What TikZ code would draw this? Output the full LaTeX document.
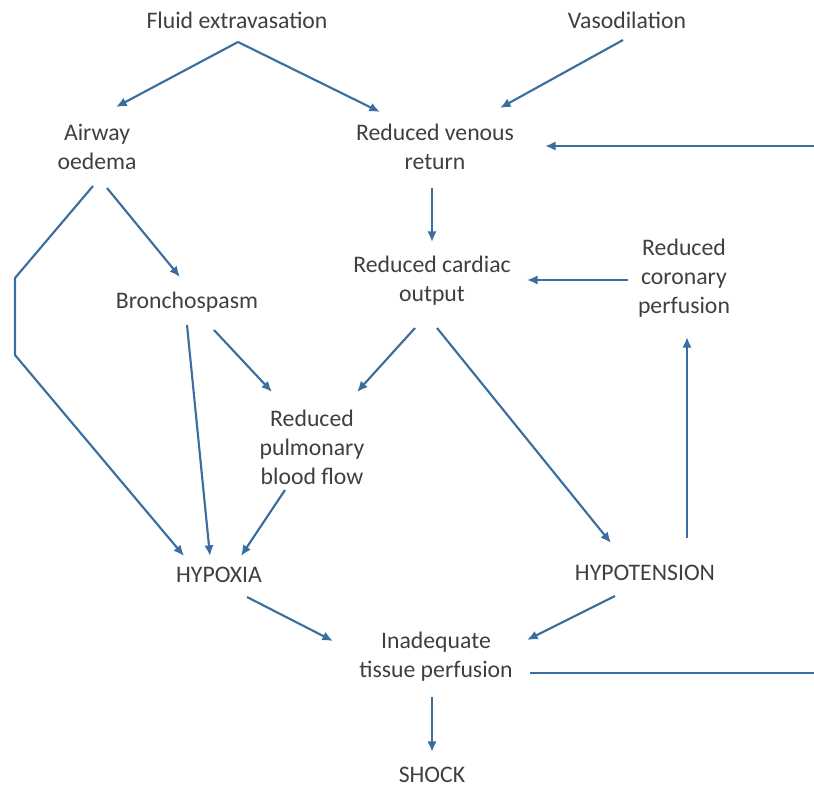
\documentclass[tikz,border=0pt]{standalone}
\usepackage{fontspec}
\setmainfont{Carlito}
\usetikzlibrary{arrows.meta,calc}
\definecolor{arrowblue}{HTML}{3A6E9E}
\definecolor{txtgray}{HTML}{3F3F3F}
\tikzset{
  lbl/.style={inner sep=0pt, align=center, text=txtgray, font=\fontsize{17.8pt}{21.7pt}\selectfont},
  arr/.style={draw=arrowblue, line width=1.6pt, -{Latex[length=8pt,width=7pt]}},
  ln/.style={draw=arrowblue, line width=1.6pt}
}
\begin{document}
\begin{tikzpicture}[x=0.75pt,y=-0.75pt]
\useasboundingbox (0,0) rectangle (814,789);
\clip (0,0) rectangle (814,789);
\node[lbl] (fluid) at (237,20) {Fluid extravasation};
\node[lbl] (vaso) at (627,20) {Vasodilation};
\node[lbl] (airway) at (97,147) {Airway\\oedema};
\node[lbl] (rvr) at (435,147) {Reduced venous\\return};
\node[lbl] (rco) at (432,281) {Reduced cardiac\\output};
\node[lbl] (coro) at (684,278) {Reduced\\coronary\\perfusion};
\node[lbl] (bronch) at (187,302) {Bronchospasm};
\node[lbl] (pulm) at (312,447) {Reduced\\pulmonary\\blood flow};
\node[lbl] (hypoxia) at (219,575) {HYPOXIA};
\node[lbl] (hypot) at (645,573) {HYPOTENSION};
\node[lbl] (tissue) at (436,657) {Inadequate\\tissue perfusion};
\node[lbl] (shock) at (432,775) {SHOCK};

\draw[arr] ($(fluid)+(1,22)$) -- ($(airway)+(19,-40)$);
\draw[arr] ($(fluid)+(1,22)$) -- ($(rvr)+(-55,-35)$);
\draw[arr] ($(vaso)+(-4,20)$) -- ($(rvr)+(65,-39)$);
\draw[arr] ($(tissue)+(94,16)$) -- (818,673) -- (818,146) -- ($(rvr)+(110,-1)$);
\draw[arr] ($(rvr)+(-3,41)$) -- ($(rco)+(0,-39)$);
\draw[arr] ($(coro)+(-56,2)$) -- ($(rco)+(95,-1)$);
\draw[arr] ($(airway)+(10,41)$) -- ($(bronch)+(-7,-25)$);
\draw[arr] ($(airway)+(-4,39)$) -- (15,278) -- (15,355) -- ($(hypoxia)+(-35,-19)$);
\draw[arr] ($(bronch)+(0,23)$) -- ($(hypoxia)+(-9,-19)$);
\draw[arr] ($(bronch)+(27,28)$) -- ($(pulm)+(-40,-55)$);
\draw[arr] ($(rco)+(-17,47)$) -- ($(pulm)+(45,-55)$);
\draw[arr] ($(pulm)+(-27,43)$) -- ($(hypoxia)+(22,-19)$);
\draw[arr] ($(rco)+(5,47)$) -- ($(hypot)+(-34,-30)$);
\draw[arr] ($(hypot)+(42,-35)$) -- ($(coro)+(3,59)$);
\draw[arr] ($(hypoxia)+(28,22)$) -- ($(tissue)+(-103,-16)$);
\draw[arr] ($(hypot)+(-30,23)$) -- ($(tissue)+(91,-17)$);
\draw[arr] ($(tissue)+(-4,40)$) -- ($(shock)+(0,-23)$);
\end{tikzpicture}
\end{document}
